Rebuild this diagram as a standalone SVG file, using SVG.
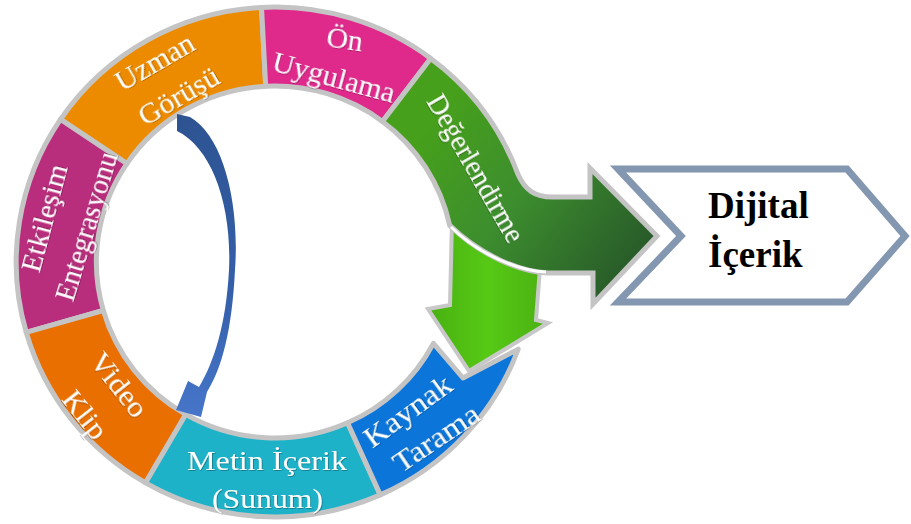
<svg xmlns="http://www.w3.org/2000/svg" width="911" height="524" viewBox="0 0 911 524">
<defs>
<style>
.seg{stroke:#c4c4c4;stroke-width:5;stroke-linejoin:round}
.lbl{font-family:"Liberation Serif","Times New Roman",serif;font-size:30px;fill:#ffffff;text-anchor:middle;dominant-baseline:central;filter:url(#ts)}
.lblh{font-family:"Liberation Serif","Times New Roman",serif;font-size:28px;fill:#ffffff;text-anchor:middle;filter:url(#ts)}
.big{font-family:"Liberation Serif","Times New Roman",serif;font-size:37px;font-weight:bold;fill:#000000}
</style>
<filter id="ts" x="-10%" y="-30%" width="120%" height="160%">
<feDropShadow dx="0.8" dy="0.8" stdDeviation="0.6" flood-color="#000" flood-opacity="0.35"/>
</filter>
<linearGradient id="gDark" gradientUnits="userSpaceOnUse" x1="440" y1="110" x2="640" y2="260">
<stop offset="0" stop-color="#46a01b"/>
<stop offset="0.45" stop-color="#3d8e2e"/>
<stop offset="1" stop-color="#285a29"/>
</linearGradient>
<linearGradient id="gLight" gradientUnits="userSpaceOnUse" x1="428" y1="0" x2="548" y2="0">
<stop offset="0" stop-color="#48b010"/>
<stop offset="0.5" stop-color="#56c915"/>
<stop offset="1" stop-color="#4bb012"/>
</linearGradient>
<linearGradient id="gBlue" gradientUnits="userSpaceOnUse" x1="0" y1="115" x2="0" y2="418">
<stop offset="0" stop-color="#2d5391"/>
<stop offset="0.6" stop-color="#3560aa"/>
<stop offset="1" stop-color="#4776ca"/>
</linearGradient>
</defs>

<g id="uzman">
<path class="seg" fill="#ed8b00" d="M 60.5,119.4 A 258.8 255 0 0 1 261.5,7.4 L 265.7,86.2 A 178.6 176 0 0 0 126.9,163.6 Z"/>
<text class="lbl" transform="translate(154,61) rotate(-30)">Uzman</text>
<text class="lbl" transform="translate(178,95) rotate(-30)">Görüşü</text>
</g>

<g id="on-uygulama">
<path class="seg" fill="#df2a8c" d="M 261.5,7.4 A 258.8 255 0 0 1 430.7,58.4 L 382.5,121.4 A 178.6 176 0 0 0 265.7,86.2 Z"/>
<text class="lbl" transform="translate(345,38) rotate(8)">Ön</text>
<text class="lbl" transform="translate(334,77) rotate(15)" textLength="126" lengthAdjust="spacingAndGlyphs">Uygulama</text>
</g>

<g id="etkilesim">
<path class="seg" fill="#b82e7c" d="M 26.2,332.3 A 258.8 255 0 0 1 60.5,119.4 L 126.9,163.6 A 178.6 176 0 0 0 103.3,310.5 Z"/>
<text class="lbl" transform="translate(44,218) rotate(-75)" textLength="110" lengthAdjust="spacingAndGlyphs">Etkileşim</text>
<text class="lbl" transform="translate(85,226) rotate(-73)" textLength="154" lengthAdjust="spacingAndGlyphs">Entegrasyonu</text>
</g>

<g id="video-klip">
<path class="seg" fill="#e96f00" d="M 145.6,482.8 A 258.8 255 0 0 1 26.2,332.3 L 103.3,310.5 A 178.6 176 0 0 0 185.7,414.4 Z"/>
<text class="lbl" transform="translate(120,384) rotate(52)" textLength="74" lengthAdjust="spacingAndGlyphs">Video</text>
<text class="lbl" transform="translate(86,414) rotate(52)" textLength="54" lengthAdjust="spacingAndGlyphs">Klip</text>
</g>

<g id="metin-icerik">
<path class="seg" fill="#1eb2c8" d="M 380.3,494.9 A 258.8 255 0 0 1 145.6,482.8 L 185.7,414.4 A 178.6 176 0 0 0 347.6,422.8 Z"/>
<text class="lblh" x="267" y="470" textLength="160" lengthAdjust="spacingAndGlyphs">Metin İçerik</text>
<text class="lblh" x="267.5" y="508" textLength="111" lengthAdjust="spacingAndGlyphs">(Sunum)</text>
</g>

<g id="kaynak-tarama">
<path class="seg" fill="#0b75d9" d="M 518.2,349.2 A 258.8 255 0 0 1 380.3,494.9 L 347.6,422.8 A 178.6 176 0 0 0 433.4,343.3 L 463,378 Z"/>
<text class="lbl" transform="translate(407,410) rotate(-36)" textLength="102" lengthAdjust="spacingAndGlyphs">Kaynak</text>
<text class="lbl" transform="translate(436,438) rotate(-34)" textLength="98" lengthAdjust="spacingAndGlyphs">Tarama</text>
</g>

<g id="connectors">
<path fill="url(#gLight)" stroke="#c8c8c8" stroke-width="4" stroke-linejoin="miter" d="M 452,220 L 450,305 L 428,309 L 469,371 L 548,323 L 536,320 L 540,268 Z"/>
<path fill="url(#gBlue)" d="M 177,114 L 190,117 C 222,135 240,200 235,270 C 232,330 222,368 207,392 L 201,417 L 176,410 L 188,381 L 199,387 C 214,362 226,325 229,270 C 232,205 212,148 177,131 Z"/>
</g>

<g id="degerlendirme">
<path fill="url(#gDark)" stroke="#c4c4c4" stroke-width="5" stroke-linejoin="miter" d="M 430.7,58.4 A 258.8 255 0 0 1 518.2,174.8 C 525,190 535,197 552,197 L 590,197 L 590,168 L 657,236 L 593,304 L 593,273 L 548,273 C 520,272 480,255 449.7,225.4 A 178.6 176 0 0 0 382.5,121.4 Z"/>
<path fill="none" stroke="#ffffff" stroke-width="3" d="M 451,227 C 481,256 520,271 546,272"/>
<text class="lbl" font-size="28" transform="translate(476,168) rotate(60)" textLength="166" lengthAdjust="spacingAndGlyphs">Değerlendirme</text>
</g>

<g id="dijital-icerik">
<polygon points="618,169 847,169 905,236 847,302 618,302 681,236" fill="#ffffff" stroke="#8497b0" stroke-width="7" stroke-linejoin="miter"/>
<text class="big" x="708" y="218">Dijital</text>
<text class="big" x="708" y="267">İçerik</text>
</g>
</svg>
